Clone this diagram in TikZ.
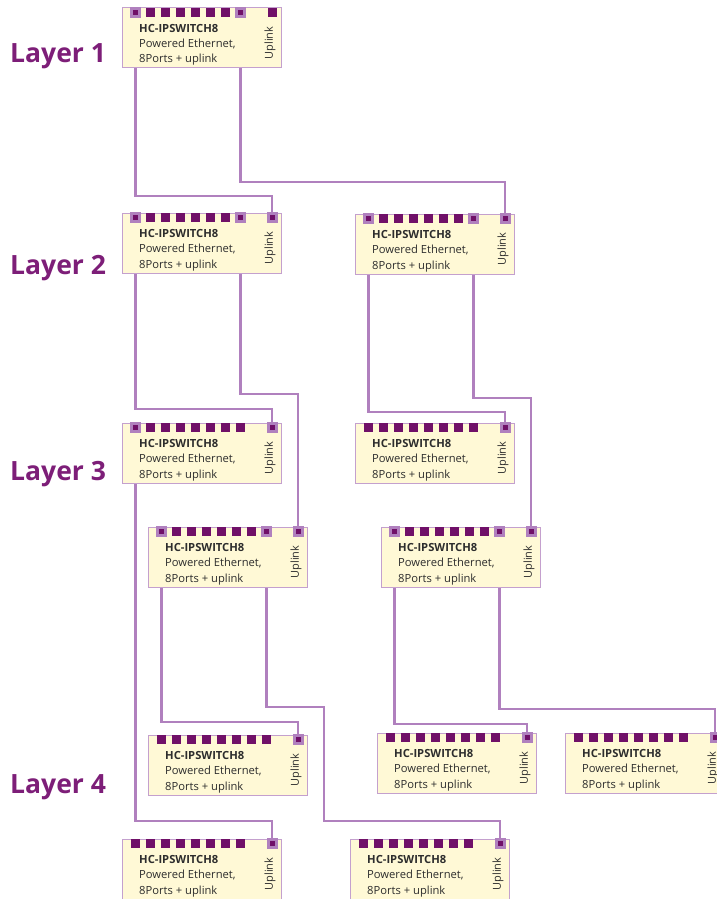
\documentclass[tikz,border=0pt]{standalone}
\usepackage{fontspec}
\setmainfont{Open Sans}
\usetikzlibrary{backgrounds}
\definecolor{lineC}{RGB}{176,128,190}
\definecolor{boxB}{RGB}{196,160,206}
\definecolor{boxF}{RGB}{255,249,214}
\definecolor{portD}{RGB}{112,16,104}
\definecolor{layerC}{RGB}{125,30,120}
\definecolor{txtC}{RGB}{45,45,45}
\tikzset{
  swbox/.style={draw=boxB, fill=boxF, line width=1pt, minimum width=159pt, minimum height=60pt, anchor=north west, inner sep=0pt, outer sep=0pt},
  port/.style={fill=portD, minimum size=9pt, inner sep=0pt, outer sep=0pt},
  cport/.style={fill=portD, draw=lineC, line width=3pt, minimum size=8pt},
  title/.style={font=\fontsize{11.2}{13}\selectfont\bfseries, anchor=base west, inner sep=0pt, text=txtC},
  desc/.style={font=\fontsize{11.2}{13}\selectfont, anchor=base west, inner sep=0pt, text=txtC},
  uplab/.style={font=\fontsize{11}{13}\selectfont, rotate=90, anchor=center, inner sep=0pt, text=txtC},
  link/.style={draw=lineC, line width=2.4pt},
  layer/.style={font=\fontsize{26.5}{30}\selectfont\bfseries, text=layerC, anchor=base west, inner sep=0pt},
  conn-s1-1/.style={cport}, conn-s1-8/.style={cport},
  conn-s2-1/.style={cport}, conn-s2-8/.style={cport}, conn-s2-up/.style={cport},
  conn-s3-1/.style={cport}, conn-s3-8/.style={cport}, conn-s3-up/.style={cport},
  conn-s4-1/.style={cport}, conn-s4-up/.style={cport},
  conn-s5-up/.style={cport},
  conn-s6-1/.style={cport}, conn-s6-8/.style={cport}, conn-s6-up/.style={cport},
  conn-s7-1/.style={cport}, conn-s7-8/.style={cport}, conn-s7-up/.style={cport},
  conn-s8-up/.style={cport}, conn-s9-up/.style={cport}, conn-s10-up/.style={cport},
  conn-s11-up/.style={cport}, conn-s12-up/.style={cport},
}
\newcommand\swunit[3]{%
  \node[swbox] (#1) at (#2,#3) {};
  \node[title] (#1t) at ({#2+17},{#3+24.7}) {HC-IPSWITCH8};
  \node[desc] (#1d) at ({#2+17},{#3+39.7}) {Powered Ethernet,};
  \node[desc] (#1e) at ({#2+17},{#3+55}) {8Ports + uplink};
  \node[uplab] (#1ul) at ({#2+148},{#3+35}) {Uplink};
  \foreach \i in {1,...,8}{
    \node[port, conn-#1-\i/.try] (#1p\i) at ({#2+13.5+15*(\i-1)},{#3+4.5}) {};
  }
  \node[port, conn-#1-up/.try] (#1up) at ({#2+150},{#3+4.5}) {};
}
\begin{document}
\begin{tikzpicture}[x=1pt,y=-1pt]
\useasboundingbox (0,0) rectangle (717,899);
\clip (0,0) rectangle (717,899);
\node[layer] (L1) at (10,63) {Layer 1};
\node[layer] (L2) at (10,274) {Layer 2};
\node[layer] (L3) at (10,480) {Layer 3};
\node[layer] (L4) at (10,793) {Layer 4};
\swunit{s1}{122}{8}
\swunit{s2}{122}{213}
\swunit{s3}{355}{214}
\swunit{s4}{122}{423}
\swunit{s5}{355}{423}
\swunit{s6}{148}{527}
\swunit{s7}{381}{527}
\swunit{s8}{148}{735}
\swunit{s9}{377}{733}
\swunit{s10}{565}{733}
\swunit{s11}{122}{839}
\swunit{s12}{350}{839}
\coordinate (y1) at (0,196);
\coordinate (y2) at (0,182);
\coordinate (y3) at (0,409);
\coordinate (y4) at (0,394);
\coordinate (y5) at (0,412);
\coordinate (y6) at (0,398);
\coordinate (y7) at (0,821);
\coordinate (y8) at (0,722);
\coordinate (j1) at (324,707);
\coordinate (y9) at (0,821);
\coordinate (y10) at (0,724);
\coordinate (y11) at (0,709);
\begin{scope}[on background layer]
\draw[link] (s1p1.center) |- (s2up |- y1) -- (s2up.center);
\draw[link] (s1p8.center) |- (s3up |- y2) -- (s3up.center);
\draw[link] (s2p1.center) |- (s4up |- y3) -- (s4up.center);
\draw[link] (s2p8.center) |- (s6up |- y4) -- (s6up.center);
\draw[link] (s3p1.center) |- (s5up |- y5) -- (s5up.center);
\draw[link] (s3p8.center) |- (s7up |- y6) -- (s7up.center);
\draw[link] (s4p1.center) |- (s11up |- y7) -- (s11up.center);
\draw[link] (s6p1.center) |- (s8up |- y8) -- (s8up.center);
\draw[link] (s6p8.center) |- (j1) |- (s12up |- y9) -- (s12up.center);
\draw[link] (s7p1.center) |- (s9up |- y10) -- (s9up.center);
\draw[link] (s7p8.center) |- (s10up |- y11) -- (s10up.center);
\end{scope}
\end{tikzpicture}
\end{document}
